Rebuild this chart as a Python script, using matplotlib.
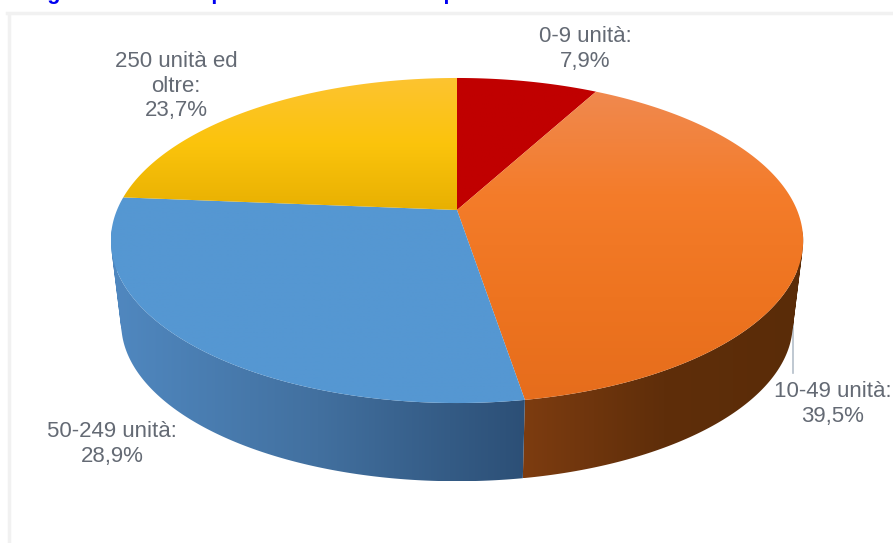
import numpy as np
import matplotlib
matplotlib.use("Agg")
import matplotlib.pyplot as plt
from matplotlib.colors import LinearSegmentedColormap
from matplotlib.patches import PathPatch, Polygon
from matplotlib.path import Path

# Share of units per size class, clockwise from twelve o'clock
categories = ["0-9 unità", "10-49 unità", "50-249 unità", "250 unità ed oltre"]
shares = [7.9, 39.5, 28.9, 23.7]
label_texts = ["0-9 unità:\n7,9%", "10-49 unità:\n39,5%", "50-249 unità:\n28,9%",
               "250 unità ed\noltre:\n23,7%"]
label_xy = [(585, 49), (833, 404), (112, 444), (176, 86)]

top_colors = [["#c00000", "#c00000"],
              ["#f0894f", "#f47c2a", "#ee7420", "#e66d1c"],
              ["#5597d2", "#5597d2"],
              ["#fdc331", "#fbc40c", "#e8b002"]]
side_colors = [["#7a0000", "#7a0000"],
               ["#7d3c10", "#5f2e0a", "#5a2c08"],
               ["#5088c0", "#42709f", "#2c4f76"],
               ["#8a6c00", "#8a6c00"]]

W, H = 893, 543
CX, CY = 457, 210      # apex of the pie on the page
A, B = 340, 156.8      # horizontal and depth scale of the disc
K = 0.1877             # perspective strength
DROP = 84              # thickness of the disc
BASE_SCALE = 0.97      # lower rim sits slightly further from the viewer


def project(angle_deg, lower=False):
    t = np.radians(angle_deg)
    x, y = np.cos(t), np.sin(t)
    w = 1 + K * y
    s, d = (BASE_SCALE, DROP) if lower else (1.0, 0.0)
    return CX + s * A * x / w, CY - s * B * y / w + d


def ramp_image(ax, bounds, colors, vertical, clip, zorder):
    cmap = LinearSegmentedColormap.from_list("shade", colors)
    x0, y0, x1, y1 = bounds
    ramp = np.linspace(0, 1, 256)
    ramp = ramp[:, None] if vertical else ramp[None, :]
    im = ax.imshow(ramp, cmap=cmap, extent=(x0, x1, y1, y0), aspect="auto",
                   origin="upper", interpolation="bilinear", zorder=zorder)
    ax.add_patch(clip)
    im.set_clip_path(clip)


def shaded_face(ax, verts, colors):
    # Top face: vertical ramp clipped to the slice outline
    clip = Polygon(verts, closed=True, transform=ax.transData, fill=False, edgecolor="none")
    bounds = (*verts.min(axis=0), *verts.max(axis=0))
    ramp_image(ax, bounds, colors, True, clip, 3)


def shaded_wall(ax, t, colors):
    # Outer wall: only the part facing the viewer, built from ruled quads with
    # one winding direction so their union keeps the straight side silhouette
    t = t[np.sin(np.radians(t)) < -0.12]
    if len(t) < 2:
        return
    ux, uy = project(t)
    lx, ly = project(t, lower=True)
    verts, codes = [], []
    for j in range(len(t) - 1):
        quad = np.array([(ux[j], uy[j]), (ux[j + 1], uy[j + 1]),
                         (lx[j + 1], ly[j + 1]), (lx[j], ly[j])])
        px, py = quad[:, 0], quad[:, 1]
        if np.dot(px, np.roll(py, -1)) - np.dot(py, np.roll(px, -1)) < 0:
            quad = quad[::-1]
        verts.extend(quad.tolist() + [quad[0].tolist()])
        codes.extend([Path.MOVETO, Path.LINETO, Path.LINETO, Path.LINETO, Path.CLOSEPOLY])
    clip = PathPatch(Path(verts, codes), transform=ax.transData, fill=False, edgecolor="none")
    v = np.array(verts)
    bounds = (*v.min(axis=0), *v.max(axis=0))
    ramp_image(ax, bounds, colors, False, clip, 2)


fig = plt.figure(figsize=(W / 100, H / 100), dpi=100)
ax = fig.add_axes([0, 0, 1, 1])
fonts = ["Liberation Sans", "DejaVu Sans"]

# Chart frame: faint shadow along the top and left edges
ax.plot([8.5, 8.5], [14, H], color="#f1f1f1", lw=2.5, zorder=1)
ax.plot([7, W], [12.5, 12.5], color="#f1f1f1", lw=2.5, zorder=1)

# Slice boundaries in degrees, running clockwise from the top
fractions = np.cumsum([0] + shares) / sum(shares)
angles = 90 - 360 * fractions

# Outer walls first, then the top faces over them
for i in range(len(shares)):
    shaded_wall(ax, np.linspace(angles[i], angles[i + 1], 240), side_colors[i])

for i in range(len(shares)):
    t = np.linspace(angles[i], angles[i + 1], 200)
    ux, uy = project(t)
    face = np.column_stack([np.r_[CX, ux], np.r_[CY, uy]])
    shaded_face(ax, face, top_colors[i])

# Leader line for the 10-49 label
ax.plot([793, 793], [310, 373], color="#b4bfca", lw=1.2, zorder=1)

for text, (x, y) in zip(label_texts, label_xy):
    ax.text(x, y, text, ha="center", va="center", fontsize=16, color="#646a74",
            linespacing=1.2, family=fonts, zorder=4)

# Caption sits above the top edge; only its descenders reach the page
ax.text(28, -1.5, "Figura 5.1 – Le imprese attive suddivise per classe dimensionale",
        ha="left", va="baseline", fontsize=15.6, fontweight="bold", color="#0000f0",
        family=fonts, zorder=4)

ax.set_xlim(0, W)
ax.set_ylim(H, 0)
ax.axis("off")
fig.savefig("out.png", dpi=100, facecolor="white")
